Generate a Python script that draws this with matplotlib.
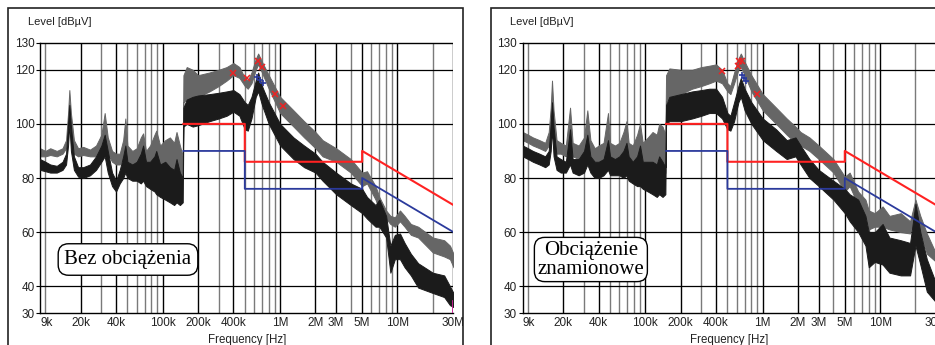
import numpy as np
import matplotlib.pyplot as plt
from matplotlib.patches import Rectangle

plt.rcParams['font.family'] = ['Liberation Sans', 'DejaVu Sans']

# ---- data (frequency in kHz, level in dBuV) ----
# left panel: "Bez obciazenia"
left_f = [9, 10, 11, 12.5, 14, 15, 15.6, 16, 16.5, 17.5, 19, 21, 24, 27, 30, 32, 34, 37, 40,
          43, 46, 48, 50, 55, 60, 65, 68, 72, 78, 85, 88, 95, 105, 115, 125, 131, 140, 148,
          150, 160, 180, 200, 250, 300, 350, 400, 450, 500, 530, 570, 620, 650, 700, 800,
          1000, 1300, 1600, 2000, 2300, 3000, 4000, 5000, 5500, 6500, 7000, 8000, 8700, 9500,
          10500, 11500, 13000, 15000, 20000, 25000, 28000, 30000]
left_peak_hi = [91, 90, 91, 90, 91, 94, 104, 112.5, 104, 94, 91, 91.5, 90.5, 92, 96, 104, 95, 90, 89,
                89, 94, 102, 92, 90, 91, 95, 96.5, 90, 92, 96, 97.5, 92, 94, 95, 93, 97, 92, 88,
                118, 121, 120, 118, 119, 120, 121, 122.5, 121, 117, 116, 119, 124, 126, 123, 118,
                110, 105, 101, 97, 94, 91, 87, 82, 82.5, 77, 73, 68, 66, 65.5,
                68, 66, 63, 62, 58, 57, 55, 52]
left_peak_lo = [88, 88, 88.5, 88, 89, 91, 97, 106, 96, 89, 88, 88.5, 88, 88, 90, 95, 89, 86, 85,
                85, 87, 90, 86, 85, 85, 84, 85, 83, 82, 82, 83, 80, 79, 80, 78, 79, 78, 80,
                108, 109, 109, 110, 112, 114, 116, 118, 117, 114, 113, 115, 120, 122, 119, 113,
                104, 99, 95, 91, 88, 86, 82, 77, 78, 72, 68, 65, 63, 62,
                64, 62, 59, 58, 52.5, 51, 50, 47]
left_avg_hi = [87, 86, 85, 84.5, 86, 89, 100, 107, 99, 88, 84, 84, 85, 88, 92, 96, 90, 82, 79,
               83, 88, 92, 86, 85, 86, 89, 92, 86, 86, 88, 90, 85, 86, 84, 83, 87, 82, 80,
               106, 109, 110, 110.5, 111, 111.5, 112, 112.5, 111, 108, 107, 110, 116, 119, 114, 108,
               100, 95, 92, 89, 86, 82, 78, 76, 73, 70, 72, 66, 55, 59,
               59.5, 56, 52, 48.5, 45, 44, 40, 37.5]
left_avg_lo = [83, 82.5, 82, 82, 83, 85, 92, 100, 90, 83, 80.5, 80, 81, 83, 86, 88, 82, 77, 75,
               78, 80, 82, 80, 79, 79, 78, 79, 77, 76, 75, 74, 73, 72, 71, 70, 71, 70, 71,
               99, 100, 99, 99.5, 101, 102, 103, 104.5, 103, 98, 97.5, 102, 110, 112, 107, 100,
               92, 87, 84, 82, 79, 74, 70, 67, 65, 62, 62, 58, 45, 50,
               50, 47, 44, 39.5, 37.5, 36, 33, 32.3]

# right panel: "Obciazenie znamionowe"
right_f = [9, 10, 11, 12.5, 14, 15, 15.6, 16, 16.5, 17.5, 19, 21, 22.8, 24, 27, 30, 32, 34, 37,
           40, 44, 48, 50, 55, 60, 65, 69, 72, 78, 85, 90, 95, 105, 115, 125, 131, 140, 148,
           150, 160, 200, 250, 300, 350, 400, 450, 500, 530, 570, 620, 650, 700, 800,
           1000, 1300, 1600, 1900, 2100, 2500, 3000, 4000, 5000, 5500, 6500, 7500, 8000, 9000,
           10500, 12000, 15000, 18000, 20000, 22000, 25000, 30000]
right_peak_hi = [97, 96, 95, 94, 93, 97, 106, 116, 105, 94, 93, 92, 106, 93, 92, 95, 105, 94, 91,
                 92, 93, 104, 93, 92, 93, 97, 101, 93, 92, 96, 100, 93, 95, 97, 96, 100, 99, 96,
                 118, 120.5, 120, 120, 121, 121.5, 122, 120, 115, 114, 119, 124, 126, 123, 118,
                 111, 106, 102, 99, 97, 95, 92, 87, 80.5, 82, 75, 72, 68, 67,
                 69.5, 66, 67, 64, 72, 66, 59.5, 52]
right_peak_lo = [94, 93, 92, 91, 90, 92, 98, 106, 95, 89, 89, 88, 92, 88, 87, 88, 92, 88, 86,
                 86, 86, 90, 86, 86, 86, 87, 88, 85, 84, 83, 84, 82, 81, 80, 79, 80, 79, 82,
                 108, 110, 111, 113, 114, 115, 116, 115, 112, 111, 115, 120, 121, 118, 112,
                 105, 100, 96, 93, 92, 90, 87, 82, 75, 77, 70, 66, 61, 62,
                 62, 61, 60, 59.5, 66, 60, 52, 49]
right_avg_hi = [92, 91, 90, 89, 88, 90, 100, 108, 99, 88, 87, 86, 98, 87, 87, 90, 96, 88, 86,
                86, 87, 94, 88, 87, 88, 90, 93, 88, 86, 88, 92, 86, 86, 86, 85, 88, 86, 84,
                107, 110, 111, 112, 112.5, 113, 113, 110, 104, 103, 108, 114, 117, 113, 108,
                102, 98, 94, 95, 92, 87, 83, 79, 76, 74, 72, 66, 60, 60,
                63, 58, 57, 56, 70.5, 60, 50, 41]
right_avg_lo = [88, 87, 86, 85, 84, 85, 90, 98, 88, 83, 82, 82, 85, 82, 81, 82, 85, 82, 80,
                80, 81, 83, 81, 81, 81, 80, 81, 79, 78, 77, 77, 76, 75, 74, 73, 74, 73, 74,
                100, 101, 101, 102, 103, 104, 104, 102, 98, 97.5, 101, 108, 110, 105, 100,
                94, 90, 87, 88, 85, 80, 77, 72, 67, 64, 60, 55, 47, 49,
                48, 45, 44, 44, 55, 48, 38, 34]

# limit lines (kHz, dBuV)
limit_f = [150, 500, 500, 5000, 5000, 30000]
limit_qp = [100, 100, 86, 86, 90, 70]
limit_av = [90, 90, 76, 76, 80, 60]

# final measurement markers
left_qp_marks_f = [399, 518, 652, 696, 904, 1064]
left_qp_marks_db = [118.7, 116.8, 123.2, 121.1, 110.9, 106.6]
left_av_marks_f = [639, 672, 716]
left_av_marks_db = [117.2, 116.2, 115.2]
right_qp_marks_f = [446, 610, 632, 660, 885]
right_qp_marks_db = [119.5, 121.4, 123.2, 123.2, 110.9]
right_av_marks_f = [660, 690, 725]
right_av_marks_db = [118, 116.8, 116]

# tick labels and grid
xtick_khz = [9, 20, 40, 100, 200, 400, 1000, 2000, 3000, 5000, 10000, 30000]
xtick_labels = ['9k', '20k', '40k', '100k', '200k', '400k', '1M', '2M', '3M', '5M', '10M', '30M']
grid_khz = [10, 20, 30, 40, 50, 60, 70, 80, 90, 100, 200, 300, 400, 500, 600, 700, 800, 900,
            1000, 2000, 3000, 4000, 5000, 6000, 7000, 8000, 9000, 10000, 20000, 30000]
ytick_vals = [30, 40, 60, 80, 100, 120, 130]


def draw_panel(ax, f, phi, plo, ahi, alo, qf, qdb, af, adb):
    fhz = np.array(f) * 1e3
    ax.set_xscale('log')
    ax.set_xlim(9e3, 30e6)
    ax.set_ylim(30, 130)

    # grid
    for g in grid_khz:
        col = 'black' if g in xtick_khz else '#7a7a7a'
        ax.axvline(g * 1e3, color=col, lw=1.0, zorder=1)
    for yv in [40, 60, 80, 100, 120]:
        ax.axhline(yv, color='black', lw=0.9, zorder=1)

    # traces
    ax.fill_between(fhz, plo, phi, color='#666666', lw=0.7, edgecolor='#666666', zorder=2)
    ax.fill_between(fhz, alo, ahi, color='#1b1b1b', lw=0.7, edgecolor='#1b1b1b', zorder=3)

    # limits
    lf = np.array(limit_f) * 1e3
    ax.plot(lf, limit_qp, color='#ff2222', lw=1.5, zorder=4)
    ax.plot(lf, limit_av, color='#2b3a9c', lw=1.3, zorder=4)

    ax.plot(np.array(qf) * 1e3, qdb, ls='none', marker='x', ms=4, mew=1.1, color='#ee2222', zorder=5)
    ax.plot(np.array(af) * 1e3, adb, ls='none', marker='+', ms=5, mew=1.2, color='#2b3a9c', zorder=5)

    # axes styling
    ax.set_xticks([])
    ax.set_xticks([], minor=True)
    for k, lab in zip(xtick_khz, xtick_labels):
        ha = 'left' if k == 9 else 'center'
        ax.text(k * 1e3, 28.8, lab, ha=ha, va='top', fontsize=8.5, color='#222222')
    ax.set_yticks(ytick_vals)
    ax.set_yticklabels([str(v) for v in ytick_vals], fontsize=8.5, color='#222222')
    ax.tick_params(axis='y', length=3, width=0.8, pad=1)
    ax.spines['top'].set_linestyle((0, (1.5, 1)))
    ax.spines['top'].set_linewidth(1.0)
    ax.spines['right'].set_visible(False)
    ax.spines['left'].set_linewidth(1.0)
    ax.spines['bottom'].set_linewidth(1.0)
    ax.text(0.5, -0.078, 'Frequency [Hz]', transform=ax.transAxes, ha='center', va='top',
            fontsize=8.3, color='#222222')
    ax.text(-0.03, 1.075, 'Level [dBµV]', transform=ax.transAxes, ha='left', va='center',
            fontsize=8.0, color='#222222')


fig = plt.figure(figsize=(9.35, 3.45), dpi=100)

# panel frames
fig.add_artist(Rectangle((0.0086, -0.2), 0.4866, 1.1768, transform=fig.transFigure,
                         fill=False, lw=1.2, edgecolor='#222222'))
fig.add_artist(Rectangle((0.5251, -0.2), 0.6, 1.1768, transform=fig.transFigure,
                         fill=False, lw=1.2, edgecolor='#222222'))

ax1 = fig.add_axes([0.0428, 0.0919, 0.4422, 0.7843])
draw_panel(ax1, left_f, left_peak_hi, left_peak_lo, left_avg_hi, left_avg_lo,
           left_qp_marks_f, left_qp_marks_db, left_av_marks_f, left_av_marks_db)
# short magenta marker at the end of the left sweep
ax1.plot([29.6e6, 29.6e6], [30, 34.5], color='#cc2299', lw=2, zorder=4)
ax1.text(0.2128, 0.1988, 'Bez obciążenia', transform=ax1.transAxes, ha='center', va='center',
         fontsize=15, family=['Liberation Serif', 'DejaVu Serif'], zorder=6,
         bbox=dict(boxstyle='round,pad=0.3,rounding_size=0.5', fc='white', ec='black', lw=1))

ax2 = fig.add_axes([0.5590, 0.0919, 0.4422, 0.7843])
draw_panel(ax2, right_f, right_peak_hi, right_peak_lo, right_avg_hi, right_avg_lo,
           right_qp_marks_f, right_qp_marks_db, right_av_marks_f, right_av_marks_db)
ax2.text(0.165, 0.1988, 'Obciążenie\nznamionowe', transform=ax2.transAxes, ha='center',
         va='center', fontsize=15, linespacing=1.0, family=['Liberation Serif', 'DejaVu Serif'],
         zorder=6,
         bbox=dict(boxstyle='round,pad=0.15,rounding_size=0.5', fc='white', ec='black', lw=1))

fig.savefig('out.png', dpi=100)
